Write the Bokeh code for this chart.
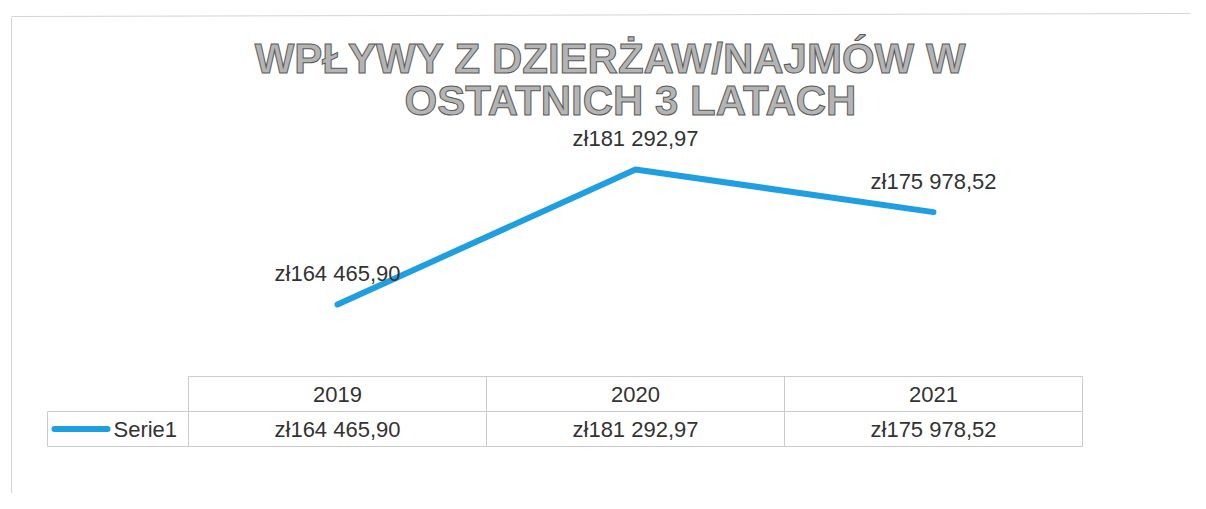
from bokeh.plotting import figure
from bokeh.models import Range1d, Label
from bokeh.core.properties import value
from bokeh.embed import file_html
from bokeh.resources import INLINE

# ---------------- data ----------------
title_lines = ["WPŁYWY Z DZIERŻAW/NAJMÓW W", "OSTATNICH 3 LATACH"]
years = ["2019", "2020", "2021"]
values = [164465.90, 181292.97, 175978.52]
series_name = "Serie1"


def fmt_pln(v):
    s = f"{v:,.2f}"
    return "zł" + s.replace(",", " ").replace(".", ",")


value_labels = [fmt_pln(v) for v in values]
idx = list(range(len(years)))

# ---------------- layout (picture pixels) ----------------
W, H, M = 1190, 493, 0
X0_PX, STEP_PX = 337, 298          # first category centre, category spacing
Y_HI_PX, Y_LO_PX = 169, 304         # pixel rows of max / min value
k = (Y_LO_PX - Y_HI_PX) / (max(values) - min(values))
x_start = -(X0_PX - M) / STEP_PX
x_end = x_start + W / STEP_PX
y_end = max(values) + (Y_HI_PX - M) / k
y_start = y_end - H / k


def px(xp):
    return x_start + (xp - M) / W * (x_end - x_start)


def py(yp):
    return y_end - (yp - M) / H * (y_end - y_start)


FONT_NAME = "Liberation Sans"
FONT = value(FONT_NAME)
BLUE = "#1f9fe0"
TXT = "#333333"
GRID = "#cccccc"

p = figure(width=W, height=H, output_backend="svg", toolbar_location=None,
           x_range=Range1d(x_start, x_end), y_range=Range1d(y_start, y_end),
           x_axis_location=None, y_axis_location=None, min_border=0,
           background_fill_color="white", border_fill_color="white")
p.outline_line_color = None
p.xgrid.grid_line_color = None
p.ygrid.grid_line_color = None

# chart area border (left and top)
p.segment(x0=[px(11), px(11)], y0=[py(17), py(16)],
          x1=[px(11), px(1190)], y1=[py(493), py(13)],
          line_color="#d4d4d4", line_width=1)

# title (hollow grey letters)
for txt, cx, base in [(title_lines[0], 610, 58), (title_lines[1], 630, 100)]:
    p.add_layout(Label(x=cx - M, y=H - (base - M), x_units="screen", y_units="screen",
                       text=txt, text_align="center", text_baseline="alphabetic",
                       text_font=FONT_NAME, text_font_size="42px", text_font_style="bold",
                       text_color="#b4b4b4", text_outline_color="#5a5a5a"))

# series line
p.line(x=idx, y=values, line_color=BLUE, line_width=6,
       line_cap="round", line_join="round")

# data labels
p.text(x=idx, y=values, text=value_labels, text_align="center",
       text_baseline="alphabetic", y_offset=-31,
       text_font=FONT, text_font_size="22px", text_color=TXT)

# ---------------- data table ----------------
row_top, row_mid, row_bot = 376, 411, 446
leg_left = 47
col_edges = [i - 0.5 for i in idx] + [idx[-1] + 0.5]
x0s, y0s, x1s, y1s = [], [], [], []
# horizontals
x0s += [col_edges[0], px(leg_left), px(leg_left)]
x1s += [col_edges[-1]] * 3
y0s += [py(row_top), py(row_mid), py(row_bot)]
y1s += [py(row_top), py(row_mid), py(row_bot)]
# verticals
for e in col_edges:
    x0s.append(e); x1s.append(e); y0s.append(py(row_top)); y1s.append(py(row_bot))
x0s.append(px(leg_left)); x1s.append(px(leg_left)); y0s.append(py(row_mid)); y1s.append(py(row_bot))
p.segment(x0=x0s, y0=y0s, x1=x1s, y1=y1s, line_color=GRID, line_width=1)

hdr_y = py((row_top + row_mid) / 2)
val_y = py((row_mid + row_bot) / 2)
p.text(x=idx, y=[hdr_y] * len(idx), text=years, text_align="center",
       text_baseline="middle", text_font=FONT, text_font_size="22px", text_color=TXT)
p.text(x=idx, y=[val_y] * len(idx), text=value_labels, text_align="center",
       text_baseline="middle", text_font=FONT, text_font_size="22px", text_color=TXT)

# legend key
p.segment(x0=[px(54)], y0=[val_y], x1=[px(107)], y1=[val_y],
          line_color=BLUE, line_width=6, line_cap="round")
p.text(x=[px(113)], y=[val_y], text=[series_name], text_align="left",
       text_baseline="middle", text_font=FONT, text_font_size="22px", text_color=TXT)

open("out.html", "w").write(file_html(p, INLINE))
